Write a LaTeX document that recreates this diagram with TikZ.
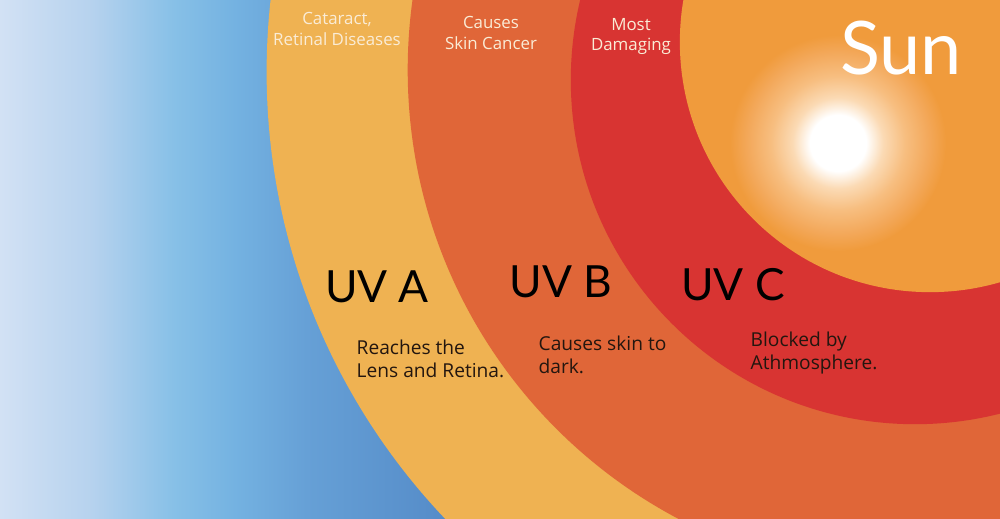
\documentclass[tikz,border=0pt]{standalone}
\usepackage{fontspec}
\newfontfamily\latofont{Lato}
\newfontfamily\opensansfont{Open Sans}
\definecolor{skyA}{RGB}{210,225,244}
\definecolor{skyB}{RGB}{182,210,238}
\definecolor{skyC}{RGB}{135,192,231}
\definecolor{skyD}{RGB}{116,178,225}
\definecolor{skyE}{RGB}{102,160,214}
\definecolor{skyF}{RGB}{82,136,198}
\definecolor{bandyellow}{RGB}{239,178,82}
\definecolor{bandorange}{RGB}{224,102,56}
\definecolor{bandred}{RGB}{216,52,50}
\definecolor{sunorange}{RGB}{240,155,60}
\definecolor{glowA}{RGB}{251,218,180}
\definecolor{glowB}{RGB}{247,190,128}
\definecolor{glowC}{RGB}{243,168,90}
\definecolor{cream}{RGB}{250,236,214}
\definecolor{desctext}{RGB}{35,22,15}
\pgfdeclarehorizontalshading{sky}{100bp}{color(0bp)=(skyA); color(25bp)=(skyA); color(34.8bp)=(skyB); color(43.5bp)=(skyC); color(50bp)=(skyD); color(57.6bp)=(skyE); color(75bp)=(skyF); color(100bp)=(skyF)}
\pgfdeclareradialshading{sunglow}{\pgfpoint{0bp}{0bp}}{color(0bp)=(white); color(6.5bp)=(white); color(10.5bp)=(glowA); color(15.5bp)=(glowB); color(21bp)=(glowC); color(25bp)=(sunorange); color(50bp)=(sunorange)}
\begin{document}
\begin{tikzpicture}[x=0.01cm,y=-0.01cm,
  toplabel/.style={font=\opensansfont\fontsize{4.8}{5.7}\selectfont, text=cream, align=center, inner sep=0pt, anchor=base},
  uvlabel/.style={font=\latofont\fontsize{12.6}{15}\selectfont, text=black, inner sep=0pt, anchor=base},
  desc/.style={font=\opensansfont\fontsize{5.45}{6.26}\selectfont, text=desctext, align=left, inner sep=0pt, anchor=base west},
  suntitle/.style={font=\latofont\fontsize{21}{24}\selectfont, text=white, inner sep=0pt, anchor=base}]
\useasboundingbox (0,0) rectangle (1000,518);
\clip (0,0) rectangle (1000,518);
% sky
\shade[shading=sky] (0,0) rectangle (470,518);
% bands
\fill[bandyellow] (915,72) circle[radius=6.48cm];
\fill[bandorange] (915,70) circle[radius=5.07cm];
\fill[bandred] (915,80) circle[radius=3.44cm];
\fill[sunorange] (930,42) circle[radius=2.50cm];
\shade[shading=sunglow] (838,143) circle[radius=1.08cm];
% labels
\node[suntitle] (sun) at (901,74) {Sun};
\node[toplabel] (cataract) at (337,45) {Cataract,\\Retinal Diseases};
\node[toplabel] (skincancer) at (491,49) {Causes\\Skin Cancer};
\node[toplabel] (damaging) at (631,51) {Most\\Damaging};
\node[uvlabel] (uva) at (377,302) {UV A};
\node[uvlabel] (uvb) at (561,297) {UV B};
\node[uvlabel] (uvc) at (733,300) {UV C};
\node[desc] (uvadesc) at (356,377) {Reaches the\\Lens and Retina.};
\node[desc] (uvbdesc) at (538,373) {Causes skin to\\dark.};
\node[desc] (uvcdesc) at (750,369) {Blocked by\\Athmosphere.};
\end{tikzpicture}
\end{document}
